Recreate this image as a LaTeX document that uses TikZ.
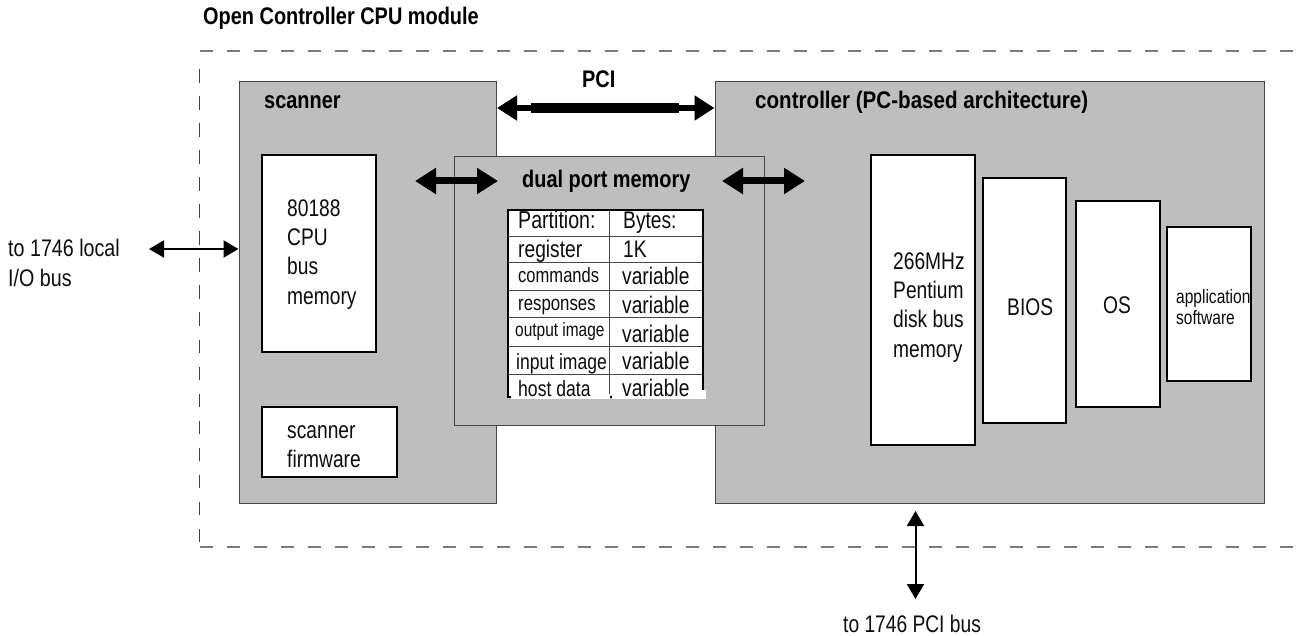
\documentclass[tikz,border=0pt]{standalone}
\usepackage{fontspec}
\setmainfont{Liberation Sans}[FakeStretch=0.8,BoldFeatures={FakeStretch=0.83}]
\newfontfamily\widerbold{Liberation Sans Bold}[FakeStretch=0.858]
\newfontfamily\widerplain{Liberation Sans}[FakeStretch=0.82]
\usetikzlibrary{arrows.meta}
\definecolor{boxgrey}{HTML}{BEBEBE}
\newcommand{\firstline}[1]{\rule{0pt}{#1pt}}
\tikzset{
  x=1pt,y=-1pt,
  greybox/.style={draw=black!72,line width=1pt,fill=boxgrey,inner sep=0pt},
  whitebox/.style={draw=black,line width=2pt,fill=white,inner sep=0pt},
  label/.style={anchor=base west,inner sep=0pt,font=\fontsize{24}{29.3}\selectfont,text=black!95},
  multilabel/.style={anchor=north west,align=left,inner sep=0pt,font=\fontsize{24}{29.3}\selectfont,text=black!95},
  blabel/.style={anchor=base west,inner sep=0pt,font=\fontsize{24}{29}\selectfont\bfseries},
  cell/.style={anchor=base west,inner sep=0pt,font=\fontsize{#1}{#1}\selectfont,text=black!95},
  pciarrow/.style={{Triangle[length=20pt,width=24pt]}-{Triangle[length=20pt,width=24pt]},line width=6pt},
  bigarrow/.style={{Triangle[length=21pt,width=25pt]}-{Triangle[length=21pt,width=25pt]},line width=7pt},
  smallarrow/.style={{Triangle[length=15pt,width=17pt]}-{Triangle[length=15pt,width=17pt]},line width=2pt},
  outline/.style={draw=black!52,line width=1.2pt,dash pattern=on 13.5pt off 13.5pt},
  outlineleft/.style={draw=black!75,line width=1pt,dash pattern=on 13.5pt off 13.5pt},
  rule/.style={draw=black!72,line width=1pt},
}
\newcommand{\boxat}[6]{\node[#1,minimum width=#4-#3,minimum height=#6-#5] (#2) at ({(#3+#4)/2},{(#5+#6)/2}) {};}
\begin{document}
\begin{tikzpicture}
\useasboundingbox (0,0) rectangle (1301,636);
\coordinate (dtl) at (199.5,51);
\coordinate (dbl) at (199.5,547);
\coordinate (dtr) at (1301,51);
\coordinate (dbr) at (1301,547);
\coordinate (dls) at (199.5,542);
\coordinate (dle) at (199.5,65);
\draw[outline] (dtl) -- (dtr);
\draw[outline] (dbl) -- (dbr);
\draw[outlineleft] (dls) -- (dle);
\boxat{greybox}{scanner}{239}{496.5}{82}{503}
\boxat{greybox}{controller}{715}{1264}{82}{503}
\boxat{greybox}{dual}{454}{764.5}{157}{425}
\boxat{whitebox}{cpu}{262}{376}{155}{352}
\boxat{whitebox}{firmware}{262}{397}{407}{477}
\boxat{whitebox}{pent}{871}{975}{155}{445}
\boxat{whitebox}{bios}{983}{1066}{178}{423}
\boxat{whitebox}{os}{1076}{1160}{201}{407}
\boxat{whitebox}{app}{1167}{1251}{227}{381}
% table
\node[draw=black,line width=1.6pt,fill=white,inner sep=0pt,minimum width=195pt,minimum height=187pt] (tbl) at (605.5,303.5) {};
\coordinate (v1) at (609,210); \coordinate (v2) at (609,397);
\draw[rule] (v1) -- (v2);
\foreach \yy in {237,263,291,318,346,374}{
  \coordinate (ra) at (508,\yy); \coordinate (rb) at (703,\yy);
  \draw[rule] (ra) -- (rb);
}
\fill[white] (511,394) rectangle (610,399);
\fill[white] (612,390) rectangle (706,399);
% texts
\node[blabel] (t0) at (203,25) {Open Controller CPU module};
\node[blabel] (t1) at (264,109) {scanner};
\node[blabel] (t2) at (582,88) {PCI};
\node[blabel] (t3) at (755,109) {\widerbold controller (PC-based architecture)};
\node[blabel] (t4) at (522,188) {dual port memory};
\node[multilabel] (t5) at (287,198) {\firstline{18}80188\\CPU\\bus\\memory};
\node[multilabel] (t6) at (287,420) {\firstline{18}scanner\\firmware};
\node[multilabel] (t7) at (893,251) {\firstline{18}266MHz\\Pentium\\disk bus\\memory};
\node[label] (t8) at (1007,316) {BIOS};
\node[label] (t9) at (1103,313) {OS};
\node[multilabel,font=\fontsize{19.4}{21}\selectfont] (t10) at (1176,288) {\firstline{15}application\\software};
\node[multilabel,font=\fontsize{24}{30}\selectfont\widerplain] (t11) at (8,238) {\firstline{18}to 1746 local\\I/O bus};
\node[label] (t12) at (843,632) {to 1746 PCI bus};
% table text
\node[cell=24.5] (c1) at (518,229) {Partition:};
\node[cell=24] (c2) at (623,229) {Bytes:};
\node[cell=24] (c3) at (518,258) {register};
\node[cell=24] (c4) at (623,258) {1K};
\node[cell=20.7] (c5) at (518,283) {commands};
\node[cell=24] (c6) at (622,285) {variable};
\node[cell=21] (c7) at (518,311) {responses};
\node[cell=24] (c8) at (622,313) {variable};
\node[cell=19.3] (c9) at (515,337) {output image};
\node[cell=24] (c10) at (622,342) {variable};
\node[cell=21.9] (c11) at (516,369) {input image};
\node[cell=24] (c12) at (622,369) {variable};
\node[cell=22] (c13) at (518,396) {host data};
\node[cell=24] (c14) at (622,396) {variable};
% connectors
\draw[pciarrow] (scanner.east |- 0,108) -- (controller.west |- 0,108);
\coordinate (pa) at (531,108); \coordinate (pb) at (679,108);
\draw[line width=9.3pt] (pa) -- (pb);
\coordinate (la) at (415,181); \coordinate (lb) at (498,181);
\coordinate (ra2) at (722,181); \coordinate (rb2) at (805,181);
\draw[bigarrow] (la) -- (lb);
\draw[bigarrow] (ra2) -- (rb2);
\coordinate (ext) at (149,249);
\draw[smallarrow] (ext) -- (scanner.west |- 0,249);
\coordinate (pcis) at (915.5,511);
\coordinate (pcie) at (915.5,599);
\draw[smallarrow] (pcis) -- (pcie);
\end{tikzpicture}
\end{document}
